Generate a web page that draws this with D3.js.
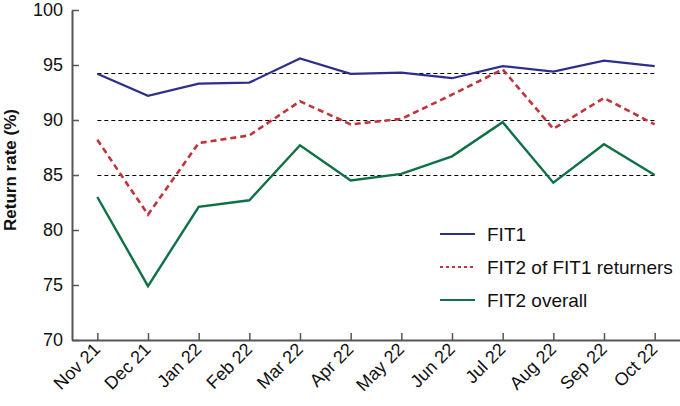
<!DOCTYPE html>
<html>
<head>
<meta charset="utf-8">
<script src="https://cdn.jsdelivr.net/npm/d3@7"></script>
<style>
  body { margin: 0; background: #fff; }
  svg { display: block; font-family: "Liberation Sans", Arial, Helvetica, sans-serif; }
</style>
</head>
<body>
<svg id="drawing_region"></svg>
<script>
const months = ["Nov 21", "Dec 21", "Jan 22", "Feb 22", "Mar 22", "Apr 22",
  "May 22", "Jun 22", "Jul 22", "Aug 22", "Sep 22", "Oct 22"];
const fit1 = [94.2, 92.2, 93.3, 93.4, 95.6, 94.2, 94.3, 93.8, 94.9, 94.4, 95.4, 94.9];
const fit2Returners = [88.2, 81.4, 87.9, 88.6, 91.7, 89.6, 90.1, 92.3, 94.6, 89.2, 92.0, 89.6];
const fit2Overall = [83.0, 74.9, 82.1, 82.7, 87.7, 84.5, 85.1, 86.7, 89.8, 84.3, 87.8, 85.0];
const refLines = [94.3, 90, 85];
const yTicks = [70, 75, 80, 85, 90, 95, 100];
const seriesNames = ["FIT1", "FIT2 of FIT1 returners", "FIT2 overall"];

const series = [
  { name: seriesNames[0], values: fit1, color: "#2d2f8c", dash: null, width: 2.2 },
  { name: seriesNames[1], values: fit2Returners, color: "#c1343c", dash: "6,4", width: 2.6 },
  { name: seriesNames[2], values: fit2Overall, color: "#0e7146", dash: null, width: 2.4 },
];

const config = {
  parent: "#drawing_region",
  width: 680,
  height: 406,
  margin: { top: 10, right: 0, bottom: 66, left: 72 },
};

const svg = d3.select(config.parent)
  .attr("width", config.width)
  .attr("height", config.height);

const innerWidth = config.width - config.margin.left - config.margin.right;
const innerHeight = config.height - config.margin.top - config.margin.bottom;

const chart = svg.append("g")
  .attr("transform", `translate(${config.margin.left}, ${config.margin.top})`);

const xscale = d3.scalePoint().domain(months).range([0, innerWidth]).padding(0.5);
const yscale = d3.scaleLinear().domain([70, 100]).range([innerHeight, 0]);

// dashed reference lines
chart.selectAll(".ref")
  .data(refLines)
  .join("line")
  .attr("class", "ref")
  .attr("x1", xscale(months[0]))
  .attr("x2", xscale(months[months.length - 1]))
  .attr("y1", (d) => Math.round(yscale(d)) + 0.5)
  .attr("y2", (d) => Math.round(yscale(d)) + 0.5)
  .attr("stroke", "#000")
  .attr("stroke-width", 1)
  .attr("stroke-dasharray", "4,3");

// axes
const axisColor = "#555";
const xaxis = d3.axisBottom(xscale).tickSizeInner(-7).tickSizeOuter(0);
const xg = chart.append("g")
  .attr("transform", `translate(0, ${innerHeight})`)
  .call(xaxis);
xg.select(".domain").attr("stroke", axisColor).attr("stroke-width", 2);
xg.selectAll(".tick line").attr("stroke", axisColor).attr("stroke-width", 1.5);
xg.selectAll(".tick text")
  .attr("font-size", "18px")
  .attr("fill", "#111")
  .attr("text-anchor", "end")
  .attr("y", 0)
  .attr("dy", "0.35em")
  .attr("transform", "translate(-1, 6) rotate(-45)");

const yaxis = d3.axisLeft(yscale).tickValues(yTicks).tickSizeInner(-7).tickSizeOuter(0).tickPadding(9);
const yg = chart.append("g").call(yaxis);
yg.select(".domain").attr("stroke", axisColor).attr("stroke-width", 2);
yg.selectAll(".tick line").attr("stroke", axisColor).attr("stroke-width", 1.5);
yg.selectAll(".tick text").attr("font-size", "18px").attr("fill", "#111");

chart.append("text")
  .attr("transform", "rotate(-90)")
  .attr("x", -160)
  .attr("y", -56)
  .attr("text-anchor", "middle")
  .attr("font-size", "17px")
  .attr("font-weight", "bold")
  .attr("fill", "#111")
  .text("Return rate (%)");

// series lines
const line = d3.line()
  .x((d, i) => xscale(months[i]))
  .y((d) => yscale(d));

chart.selectAll(".series")
  .data(series)
  .join("path")
  .attr("class", "series")
  .attr("d", (d) => line(d.values))
  .attr("fill", "none")
  .attr("stroke", (d) => d.color)
  .attr("stroke-width", (d) => d.width)
  .attr("stroke-dasharray", (d) => d.dash);

// legend
const legend = svg.append("g").attr("transform", "translate(440, 234)");
const item = legend.selectAll("g")
  .data(series)
  .join("g")
  .attr("transform", (d, i) => `translate(0, ${i * 33})`);
item.append("line")
  .attr("x1", 0)
  .attr("x2", 35)
  .attr("stroke", (d) => d.color)
  .attr("stroke-width", 2)
  .attr("stroke-dasharray", (d) => (d.dash ? "3,3" : null));
item.append("text")
  .attr("x", 47)
  .attr("dy", "0.35em")
  .attr("font-size", "19px")
  .attr("fill", "#111")
  .text((d) => d.name);
</script>
</body>
</html>
